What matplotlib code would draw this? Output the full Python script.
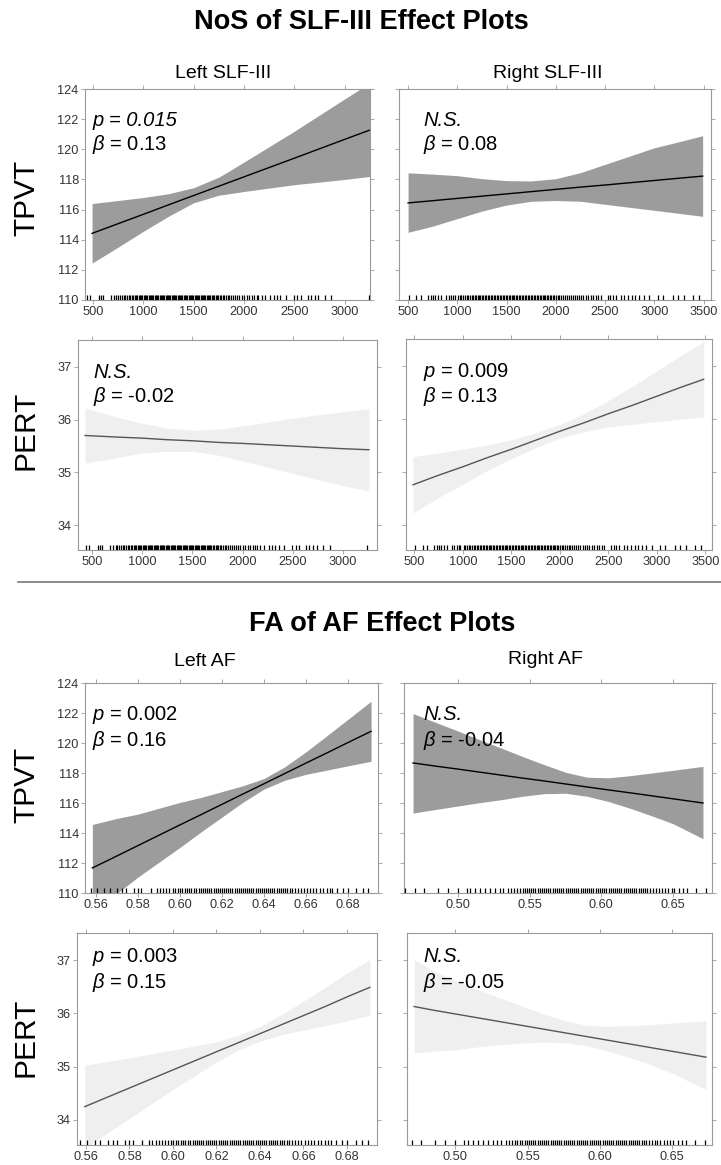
import matplotlib
matplotlib.use('Agg')
import matplotlib.pyplot as plt

plt.rcParams['font.family'] = ['Liberation Sans', 'DejaVu Sans']
plt.rcParams['mathtext.fontset'] = 'custom'
plt.rcParams['mathtext.rm'] = 'Liberation Sans'
plt.rcParams['mathtext.it'] = 'Liberation Sans:italic'
plt.rcParams['mathtext.bf'] = 'Liberation Sans:bold'

W, H = 721, 1165                                    # output size in px

# ---- NoS of SLF-III ----
# TPVT ~ left SLF-III
tl_slf_x = [493, 750, 1000, 1250, 1500, 1750, 2000, 2500, 3000, 3250]
tl_slf_fit = [114.42, 115.06, 115.68, 116.31, 116.93, 117.55, 118.17, 119.41, 120.66, 121.28]
tl_slf_up = [116.40, 116.60, 116.80, 117.05, 117.45, 118.15, 119.15, 121.20, 123.35, 124.40]
tl_slf_lo = [112.45, 113.50, 114.55, 115.55, 116.45, 116.95, 117.20, 117.65, 118.00, 118.20]

# TPVT ~ right SLF-III
tr_slf_x = [500, 750, 1000, 1250, 1500, 1750, 2000, 2250, 2500, 2750, 3000, 3250, 3490]
tr_slf_fit = [116.44, 116.59, 116.74, 116.89, 117.04, 117.19, 117.34, 117.49, 117.63, 117.78, 117.93, 118.08, 118.22]
tr_slf_up = [118.44, 118.35, 118.25, 118.05, 117.92, 117.90, 118.05, 118.45, 119.00, 119.55, 120.10, 120.50, 120.90]
tr_slf_lo = [114.49, 114.90, 115.40, 115.90, 116.30, 116.55, 116.60, 116.55, 116.35, 116.15, 115.95, 115.75, 115.55]

# PERT ~ left SLF-III
pl_slf_x = [430, 750, 1000, 1250, 1500, 1750, 2000, 2500, 3000, 3260]
pl_slf_fit = [35.70, 35.67, 35.65, 35.62, 35.60, 35.57, 35.55, 35.50, 35.45, 35.43]
pl_slf_up = [36.22, 36.05, 35.93, 35.84, 35.80, 35.82, 35.88, 36.03, 36.15, 36.21]
pl_slf_lo = [35.18, 35.28, 35.37, 35.40, 35.40, 35.33, 35.22, 34.98, 34.75, 34.65]

# PERT ~ right SLF-III
pr_slf_x = [486, 750, 1000, 1250, 1500, 1750, 2000, 2250, 2500, 2750, 3000, 3250, 3483]
pr_slf_fit = [34.76, 34.94, 35.10, 35.27, 35.43, 35.60, 35.77, 35.93, 36.10, 36.26, 36.43, 36.60, 36.75]
pr_slf_up = [35.29, 35.36, 35.43, 35.51, 35.61, 35.74, 35.90, 36.10, 36.35, 36.62, 36.91, 37.20, 37.46]
pr_slf_lo = [34.23, 34.52, 34.77, 35.03, 35.25, 35.46, 35.64, 35.76, 35.85, 35.90, 35.95, 36.00, 36.04]

# ---- FA of AF ----
# TPVT ~ left AF
tl_af_x = [0.5583, 0.57, 0.58, 0.59, 0.60, 0.61, 0.62, 0.63, 0.64, 0.65, 0.66, 0.67, 0.68, 0.691]
tl_af_fit = [111.67, 112.47, 113.16, 113.85, 114.54, 115.22, 115.91, 116.60, 117.28, 117.97, 118.66, 119.34, 120.03, 120.78]
tl_af_up = [114.57, 114.97, 115.26, 115.65, 116.04, 116.37, 116.76, 117.15, 117.63, 118.42, 119.41, 120.49, 121.58, 122.78]
tl_af_lo = [108.77, 109.97, 111.06, 112.05, 113.04, 114.07, 115.06, 116.05, 116.93, 117.52, 117.91, 118.19, 118.48, 118.78]

# TPVT ~ right AF
tr_af_x = [0.4686, 0.485, 0.50, 0.515, 0.53, 0.545, 0.56, 0.575, 0.59, 0.605, 0.62, 0.635, 0.65, 0.6709]
tr_af_fit = [118.67, 118.45, 118.26, 118.06, 117.86, 117.66, 117.47, 117.27, 117.07, 116.87, 116.68, 116.48, 116.28, 116.00]
tr_af_up = [121.96, 121.35, 120.80, 120.22, 119.67, 119.10, 118.56, 118.05, 117.72, 117.68, 117.82, 118.00, 118.18, 118.44]
tr_af_lo = [115.33, 115.58, 115.80, 116.02, 116.22, 116.45, 116.62, 116.65, 116.45, 116.10, 115.65, 115.15, 114.62, 113.62]

# PERT ~ left AF
pl_af_x = [0.5595, 0.57, 0.58, 0.59, 0.60, 0.61, 0.62, 0.63, 0.64, 0.65, 0.66, 0.67, 0.68, 0.6905]
pl_af_fit = [34.25, 34.43, 34.60, 34.77, 34.94, 35.11, 35.28, 35.45, 35.62, 35.79, 35.96, 36.13, 36.31, 36.49]
pl_af_up = [35.03, 35.10, 35.17, 35.24, 35.31, 35.39, 35.47, 35.59, 35.76, 35.98, 36.23, 36.49, 36.76, 37.01]
pl_af_lo = [33.47, 33.76, 34.03, 34.30, 34.57, 34.83, 35.09, 35.31, 35.48, 35.60, 35.69, 35.77, 35.86, 35.97]

# PERT ~ right AF
pr_af_x = [0.4714, 0.485, 0.50, 0.515, 0.53, 0.545, 0.56, 0.575, 0.59, 0.605, 0.62, 0.635, 0.65, 0.6736]
pr_af_fit = [36.13, 36.06, 35.99, 35.92, 35.85, 35.78, 35.71, 35.64, 35.57, 35.50, 35.43, 35.36, 35.29, 35.18]
pr_af_up = [37.01, 36.80, 36.62, 36.45, 36.30, 36.15, 36.00, 35.87, 35.78, 35.76, 35.77, 35.79, 35.82, 35.86]
pr_af_lo = [35.26, 35.29, 35.32, 35.37, 35.41, 35.44, 35.46, 35.45, 35.40, 35.30, 35.18, 35.04, 34.88, 34.57]

# rug values (shared by the TPVT and PERT panel of each column)
rug_slf_left = [443, 470, 561, 577, 604, 678, 712, 735, 752, 770, 790, 805, 822, 840, 858, 872, 890, 902,
                915, 930, 942, 955, 968, 980, 992, 1005, 1018, 1030, 1042, 1055, 1066, 1078, 1090, 1102,
                1115, 1126, 1138, 1150, 1162, 1175, 1186, 1198, 1210, 1222, 1235, 1246, 1258, 1270, 1282,
                1295, 1306, 1318, 1330, 1342, 1355, 1366, 1378, 1390, 1402, 1415, 1426, 1438, 1450, 1462,
                1475, 1486, 1498, 1510, 1522, 1535, 1546, 1558, 1570, 1582, 1595, 1606, 1618, 1630, 1642,
                1655, 1666, 1678, 1690, 1705, 1718, 1732, 1745, 1760, 1775, 1790, 1805, 1822, 1838, 1855,
                1872, 1890, 1910, 1932, 1955, 1978, 2000, 2025, 2050, 2075, 2100, 2126, 2143, 2177, 2210,
                2261, 2295, 2328, 2362, 2412, 2497, 2530, 2564, 2631, 2665, 2705, 2739, 2800, 2867, 3237]
rug_slf_right = [507, 585, 635, 703, 730, 753, 777, 804, 838, 889, 912, 939, 956, 973, 1007, 1025, 1042,
                 1060, 1078, 1095, 1112, 1128, 1145, 1160, 1175, 1190, 1205, 1220, 1235, 1250, 1265, 1280,
                 1295, 1310, 1325, 1340, 1355, 1370, 1385, 1400, 1415, 1430, 1445, 1460, 1475, 1490, 1505,
                 1520, 1535, 1550, 1565, 1580, 1595, 1610, 1625, 1640, 1655, 1670, 1685, 1700, 1715, 1730,
                 1745, 1760, 1775, 1790, 1805, 1820, 1835, 1850, 1865, 1880, 1895, 1910, 1925, 1940, 1955,
                 1970, 1985, 2000, 2018, 2036, 2054, 2072, 2090, 2110, 2130, 2150, 2170, 2190, 2212, 2235,
                 2257, 2280, 2305, 2330, 2355, 2380, 2409, 2432, 2459, 2527, 2554, 2578, 2611, 2662, 2696,
                 2730, 2770, 2804, 2848, 2892, 2949, 3034, 3084, 3186, 3236, 3304, 3389, 3456]
rug_af_left = [0.5575, 0.5605, 0.5640, 0.5665, 0.5700, 0.5725, 0.5745, 0.5780, 0.5800, 0.5815, 0.5860,
               0.5890, 0.5905, 0.5920, 0.5935, 0.5950, 0.5965, 0.5975, 0.5990, 0.6000, 0.6012, 0.6025,
               0.6035, 0.6045, 0.6055, 0.6068, 0.6078, 0.6090, 0.6100, 0.6110, 0.6120, 0.6130, 0.6140,
               0.6150, 0.6160, 0.6170, 0.6180, 0.6190, 0.6200, 0.6210, 0.6220, 0.6230, 0.6240, 0.6250,
               0.6260, 0.6270, 0.6280, 0.6290, 0.6300, 0.6310, 0.6320, 0.6330, 0.6340, 0.6350, 0.6360,
               0.6370, 0.6380, 0.6390, 0.6400, 0.6410, 0.6420, 0.6430, 0.6440, 0.6450, 0.6460, 0.6470,
               0.6480, 0.6490, 0.6500, 0.6512, 0.6525, 0.6535, 0.6548, 0.6560, 0.6575, 0.6590, 0.6605,
               0.6620, 0.6635, 0.6650, 0.6665, 0.6680, 0.6700, 0.6715, 0.6725, 0.6750, 0.6775, 0.6800,
               0.6840, 0.6870, 0.6895]
rug_af_right = [0.4630, 0.4700, 0.4760, 0.4860, 0.4930, 0.5000, 0.5060, 0.5085, 0.5120, 0.5155, 0.5190,
                0.5225, 0.5260, 0.5290, 0.5315, 0.5350, 0.5370, 0.5390, 0.5410, 0.5430, 0.5450, 0.5465,
                0.5480, 0.5495, 0.5510, 0.5525, 0.5540, 0.5555, 0.5570, 0.5585, 0.5600, 0.5615, 0.5630,
                0.5645, 0.5660, 0.5675, 0.5690, 0.5705, 0.5720, 0.5735, 0.5750, 0.5765, 0.5780, 0.5795,
                0.5810, 0.5825, 0.5840, 0.5855, 0.5870, 0.5885, 0.5900, 0.5915, 0.5930, 0.5945, 0.5960,
                0.5975, 0.5990, 0.6005, 0.6020, 0.6035, 0.6050, 0.6065, 0.6080, 0.6095, 0.6110, 0.6125,
                0.6140, 0.6155, 0.6170, 0.6185, 0.6200, 0.6215, 0.6230, 0.6245, 0.6260, 0.6275, 0.6290,
                0.6305, 0.6320, 0.6340, 0.6360, 0.6380, 0.6400, 0.6420, 0.6445, 0.6465, 0.6490, 0.6510,
                0.6540, 0.6570, 0.6600, 0.6660, 0.6730]

# axis ticks
ticks_slf_left = [500, 1000, 1500, 2000, 2500, 3000]
ticks_slf_right = [500, 1000, 1500, 2000, 2500, 3000, 3500]
ticks_af_left = [0.56, 0.58, 0.60, 0.62, 0.64, 0.66, 0.68]
ticks_af_right = [0.50, 0.55, 0.60, 0.65]
ticks_tpvt = [110, 112, 114, 116, 118, 120, 122, 124]
ticks_pert = [34, 35, 36, 37]

# stats text per panel
stats = {
    'tl_slf': ('p = 0.015', r'$\beta$ = 0.13'),
    'tr_slf': ('N.S.', r'$\beta$ = 0.08'),
    'pl_slf': ('N.S.', r'$\beta$ = -0.02'),
    'pr_slf': (r'$p$ = 0.009', r'$\beta$ = 0.13'),
    'tl_af': (r'$p$ = 0.002', r'$\beta$ = 0.16'),
    'tr_af': ('N.S.', r'$\beta$ = -0.04'),
    'pl_af': (r'$p$ = 0.003', r'$\beta$ = 0.15'),
    'pr_af': ('N.S.', r'$\beta$ = -0.05'),
}

TPVT_BAND, PERT_BAND = '#9c9c9c', '#efefef'
SPINE = '#999999'

fig = plt.figure(figsize=(W / 100, H / 100), dpi=100)


def fx(px):
    return px / W


def fy(py):
    return 1 - py / H


def effect_panel(box, x, fit, up, lo, rug, xlim, ylim, xticks, xfmt, yticks,
                 ylabels, band, line, lines, txt_pos, italic_first=False):
    left, top, right, bottom = box
    ax = fig.add_axes([fx(left), fy(bottom), (right - left) / W, (bottom - top) / H])
    ax.fill_between(x, lo, up, color=band, lw=0, zorder=1)
    ax.plot(x, fit, color=line, lw=1.0, zorder=2)
    # rug along the bottom edge
    ax.vlines(rug, 0, 0.022, transform=ax.get_xaxis_transform(), color='black', lw=0.9, zorder=3)
    ax.set_xlim(*xlim)
    ax.set_ylim(*ylim)
    ax.set_xticks(xticks)
    ax.set_xticklabels([xfmt.format(t) for t in xticks])
    ax.set_yticks(yticks)
    if ylabels:
        ax.set_yticklabels([str(t) for t in yticks])
    else:
        ax.set_yticklabels([])
    ax.tick_params(direction='out', length=3, width=0.6, color=SPINE,
                   labelsize=9.2, labelcolor='#333333', pad=1.5,
                   top=True, right=True)
    for s in ax.spines.values():
        s.set_color(SPINE)
        s.set_linewidth(0.8)
    # stats text (two lines)
    tx, ty1, ty2 = txt_pos
    fig.text(fx(tx), fy(ty1), lines[0], fontsize=14.5, va='center', ha='left',
             style='italic' if (italic_first or lines[0] == 'N.S.') else 'normal')
    fig.text(fx(tx), fy(ty2), lines[1], fontsize=14.5, va='center', ha='left')
    return ax


# top block: NoS of SLF-III
effect_panel((85, 89, 370, 300), tl_slf_x, tl_slf_fit, tl_slf_up, tl_slf_lo, rug_slf_left,
             (423, 3250), (110, 124), ticks_slf_left, '{:d}', ticks_tpvt, True,
             TPVT_BAND, 'black', stats['tl_slf'], (92, 121, 145), italic_first=True)
effect_panel((399, 89, 711, 300), tr_slf_x, tr_slf_fit, tr_slf_up, tr_slf_lo, rug_slf_right,
             (408, 3575), (110, 124), ticks_slf_right, '{:d}', ticks_tpvt, False,
             TPVT_BAND, 'black', stats['tr_slf'], (423, 120, 144))
effect_panel((78, 340, 377, 550), pl_slf_x, pl_slf_fit, pl_slf_up, pl_slf_lo, rug_slf_left,
             (360, 3340), (33.53, 37.51), ticks_slf_left, '{:d}', ticks_pert, True,
             PERT_BAND, '#555555', stats['pl_slf'], (93, 372, 397))
effect_panel((406, 339, 712, 550), pr_slf_x, pr_slf_fit, pr_slf_up, pr_slf_lo, rug_slf_right,
             (414, 3569), (33.53, 37.51), ticks_slf_right, '{:d}', ticks_pert, False,
             PERT_BAND, '#555555', stats['pr_slf'], (423, 372, 397))

# bottom block: FA of AF
effect_panel((85, 683, 378, 893), tl_af_x, tl_af_fit, tl_af_up, tl_af_lo, rug_af_left,
             (0.5548, 0.6943), (110, 124), ticks_af_left, '{:.2f}', ticks_tpvt, True,
             TPVT_BAND, 'black', stats['tl_af'], (92, 715, 741))
effect_panel((404, 683, 712, 893), tr_af_x, tr_af_fit, tr_af_up, tr_af_lo, rug_af_right,
             (0.4623, 0.6772), (110, 124), ticks_af_right, '{:.2f}', ticks_tpvt, False,
             TPVT_BAND, 'black', stats['tr_af'], (423, 715, 741))
effect_panel((77, 933, 377, 1145), pl_af_x, pl_af_fit, pl_af_up, pl_af_lo, rug_af_left,
             (0.5559, 0.6938), (33.53, 37.51), ticks_af_left, '{:.2f}', ticks_pert, True,
             PERT_BAND, '#555555', stats['pl_af'], (92, 957, 982))
effect_panel((407, 933, 712, 1145), pr_af_x, pr_af_fit, pr_af_up, pr_af_lo, rug_af_right,
             (0.4665, 0.6778), (33.53, 37.51), ticks_af_right, '{:.2f}', ticks_pert, False,
             PERT_BAND, '#555555', stats['pr_af'], (423, 957, 982))

# titles, column headers, row labels
fig.text(fx(361), fy(22), 'NoS of SLF-III Effect Plots', fontsize=19.5, fontweight='bold',
         ha='center', va='center')
fig.text(fx(382), fy(624), 'FA of AF Effect Plots', fontsize=19.5, fontweight='bold',
         ha='center', va='center')
for label, px, py in [('Left SLF-III', 223, 73), ('Right SLF-III', 548, 73),
                      ('Left AF', 205, 661), ('Right AF', 545, 660)]:
    fig.text(fx(px), fy(py), label, fontsize=14, ha='center', va='center')
for label, py in [('TPVT', 198), ('PERT', 430), ('TPVT', 785), ('PERT', 1037)]:
    fig.text(fx(26), fy(py), label, fontsize=21.5, rotation=90, ha='center', va='center')

# separator between the two blocks
fig.add_artist(plt.Line2D([fx(18), fx(721)], [fy(582), fy(582)], color='#777777', lw=1.2))

fig.savefig('out.png', dpi=100)
